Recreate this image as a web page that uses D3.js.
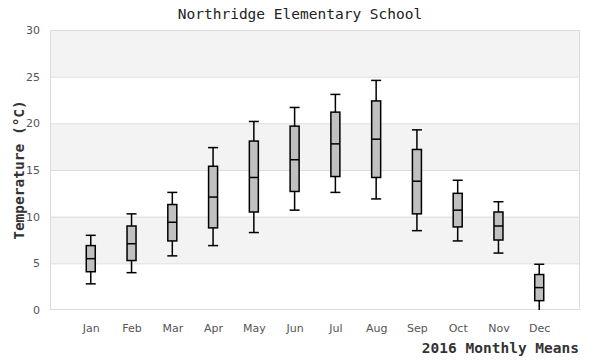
<!DOCTYPE html>
<html>
<head>
<meta charset="utf-8">
<script src="https://cdn.jsdelivr.net/npm/d3@7/dist/d3.min.js"></script>
<style>
  body { margin: 0; background: #fff; }
  svg { display: block; }
</style>
</head>
<body>
<svg id="chart" width="600" height="360"></svg>
<script>
const months = ["Jan","Feb","Mar","Apr","May","Jun","Jul","Aug","Sep","Oct","Nov","Dec"];
const whiskerLow  = [2.8, 4.0, 5.8, 6.9, 8.3, 10.7, 12.6, 11.9, 8.5, 7.4, 6.1, -0.5];
const q1          = [4.1, 5.3, 7.4, 8.8, 10.5, 12.7, 14.3, 14.2, 10.3, 8.9, 7.5, 1.0];
const medians     = [5.5, 7.1, 9.4, 12.1, 14.2, 16.1, 17.8, 18.3, 13.8, 10.7, 9.0, 2.4];
const q3          = [6.9, 9.0, 11.3, 15.4, 18.1, 19.7, 21.2, 22.4, 17.2, 12.5, 10.5, 3.8];
const whiskerHigh = [8.0, 10.3, 12.6, 17.4, 20.2, 21.7, 23.1, 24.6, 19.3, 13.9, 11.6, 4.9];
const yTicks = [0, 5, 10, 15, 20, 25, 30];
const bandRanges = [[5, 10], [15, 20], [25, 30]];

(function () {
const svg = d3.select("#chart");
const mLeft = 50, mRight = 580, mTop = 30, mBottom = 310;

const x = d3.scalePoint().domain(months).range([mLeft, mRight]).padding(1);
const y = d3.scaleLinear().domain([0, 30]).range([mBottom, mTop]);

svg.append("defs").append("clipPath").attr("id", "plotclip")
  .append("rect").attr("x", mLeft).attr("y", mTop).attr("width", mRight - mLeft).attr("height", mBottom - mTop);

svg.append("g").selectAll("rect").data(bandRanges).join("rect")
  .attr("x", mLeft).attr("width", mRight - mLeft)
  .attr("y", d => y(d[1])).attr("height", d => y(d[0]) - y(d[1]))
  .attr("fill", "#f3f3f3");

svg.append("g").selectAll("line").data(yTicks.slice(1, -1)).join("line")
  .attr("x1", mLeft).attr("x2", mRight)
  .attr("y1", d => y(d) + 0.5).attr("y2", d => y(d) + 0.5)
  .attr("stroke", "#dedede").attr("stroke-width", 1);

svg.append("rect").attr("x", mLeft + 0.5).attr("y", mTop + 0.5)
  .attr("width", mRight - mLeft - 1).attr("height", mBottom - mTop - 1)
  .attr("fill", "none").attr("stroke", "#dcdcdc").attr("stroke-width", 1);

const yAxis = d3.axisLeft(y).tickValues(yTicks).tickSize(0).tickPadding(10);
const gy = svg.append("g").attr("transform", `translate(${mLeft},0)`).call(yAxis);
gy.select(".domain").remove();
gy.selectAll("text").attr("font-family", "DejaVu Sans, sans-serif").attr("font-size", 11).attr("fill", "#555");

const xAxis = d3.axisBottom(x).tickSize(0).tickPadding(14);
const gx = svg.append("g").attr("transform", `translate(0,${mBottom})`).call(xAxis);
gx.select(".domain").remove();
gx.selectAll("text").attr("font-family", "DejaVu Sans, sans-serif").attr("font-size", 11).attr("fill", "#555");

const data = months.map((m, i) => ({m, lo: whiskerLow[i], q1: q1[i], med: medians[i], q3: q3[i], hi: whiskerHigh[i]}));
const boxW = 9, capW = 10;
const g = svg.append("g").attr("clip-path", "url(#plotclip)");
const bx = g.selectAll("g.box").data(data).join("g").attr("class", "box");
function apply(sel) { return sel.attr("stroke", "#000").attr("stroke-width", 1.5); }
apply(bx.append("line").attr("x1", d => x(d.m)).attr("x2", d => x(d.m)).attr("y1", d => y(d.hi)).attr("y2", d => y(d.q3)));
apply(bx.append("line").attr("x1", d => x(d.m)).attr("x2", d => x(d.m)).attr("y1", d => y(d.q1)).attr("y2", d => y(d.lo)));
apply(bx.append("line").attr("x1", d => x(d.m) - capW / 2).attr("x2", d => x(d.m) + capW / 2).attr("y1", d => y(d.hi)).attr("y2", d => y(d.hi)));
apply(bx.append("line").attr("x1", d => x(d.m) - capW / 2).attr("x2", d => x(d.m) + capW / 2).attr("y1", d => y(d.lo)).attr("y2", d => y(d.lo)));
apply(bx.append("rect").attr("x", d => x(d.m) - boxW / 2).attr("width", boxW)
  .attr("y", d => y(d.q3)).attr("height", d => y(d.q1) - y(d.q3)).attr("fill", "#c0c0c0"));
apply(bx.append("line").attr("x1", d => x(d.m) - boxW / 2).attr("x2", d => x(d.m) + boxW / 2).attr("y1", d => y(d.med)).attr("y2", d => y(d.med)));

svg.append("text").attr("x", 300).attr("y", 19).attr("text-anchor", "middle")
  .attr("font-family", "DejaVu Sans Mono, monospace").attr("font-size", 14.5).attr("fill", "#222")
  .text("Northridge Elementary School");
svg.append("text").attr("x", 579).attr("y", 353).attr("text-anchor", "end")
  .attr("font-family", "DejaVu Sans Mono, monospace").attr("font-size", 14.5).attr("font-weight", "bold").attr("fill", "#333")
  .text("2016 Monthly Means");
svg.append("text").attr("transform", "translate(24,170) rotate(-90)").attr("text-anchor", "middle")
  .attr("font-family", "DejaVu Sans Mono, monospace").attr("font-size", 14.5).attr("font-weight", "bold").attr("fill", "#333")
  .text("Temperature (°C)");
})();
</script>
</body>
</html>
